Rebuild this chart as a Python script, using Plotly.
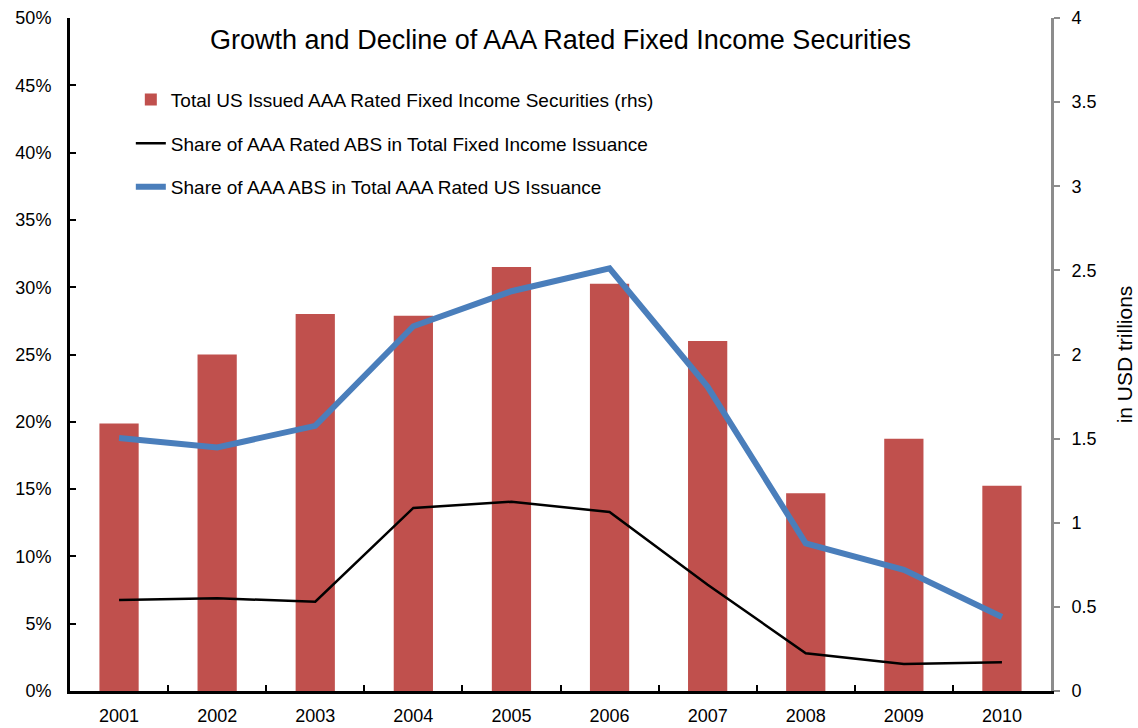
import plotly.graph_objects as go

years = ["2001", "2002", "2003", "2004", "2005", "2006", "2007", "2008", "2009", "2010"]
total_aaa_trn = [1.59, 2.00, 2.24, 2.23, 2.52, 2.42, 2.08, 1.175, 1.50, 1.22]
share_abs_total_fi = [6.76, 6.89, 6.63, 13.6, 14.06, 13.3, 7.9, 2.8, 2.0, 2.13]
share_abs_aaa = [18.8, 18.1, 19.7, 27.1, 29.7, 31.4, 22.6, 10.97, 9.0, 5.5]

left_ticks = [0, 5, 10, 15, 20, 25, 30, 35, 40, 45, 50]
left_tick_labels = ["0%", "5%", "10%", "15%", "20%", "25%", "30%", "35%", "40%", "45%", "50%"]
right_ticks = [0, 0.5, 1, 1.5, 2, 2.5, 3, 3.5, 4]
right_tick_labels = ["0", "0.5", "1", "1.5", "2", "2.5", "3", "3.5", "4"]

FONT = "Liberation Sans, Arial, sans-serif"

fig = go.Figure()
fig.add_trace(go.Bar(
    x=years, y=total_aaa_trn,
    name="Total US Issued AAA Rated Fixed Income Securities (rhs)",
    marker=dict(color="#C0504D", line=dict(width=0)),
    width=0.4, yaxis="y", legendgroup="a",
))
fig.add_trace(go.Scatter(
    x=years, y=share_abs_total_fi, mode="lines",
    name="Share of AAA Rated ABS in Total Fixed Income Issuance",
    line=dict(color="black", width=2.5), yaxis="y2", legendgroup="b",
))
fig.add_trace(go.Scatter(
    x=years, y=share_abs_aaa, mode="lines",
    name="Share of AAA ABS in Total AAA Rated US Issuance",
    line=dict(color="#4A7EBB", width=6), yaxis="y2", legendgroup="c",
))

fig.update_layout(
    width=1138, height=728,
    margin=dict(l=70, r=87, t=18, b=37),
    paper_bgcolor="white", plot_bgcolor="white",
    font=dict(family=FONT, size=18, color="black"),
    showlegend=True,
    bargap=0.6,
    title=dict(text="Growth and Decline of AAA Rated Fixed Income Securities",
               x=0.5, xref="paper", y=0.946, yref="container",
               xanchor="center", yanchor="middle",
               font=dict(size=27, family=FONT, color="black")),
    legend=dict(x=0.062, y=0.907, xanchor="left", yanchor="top",
                bgcolor="rgba(0,0,0,0)", tracegroupgap=16,
                font=dict(size=19, family=FONT), traceorder="grouped"),
    xaxis=dict(type="category", showline=True, linecolor="black", linewidth=3,
               ticks="inside", tickson="boundaries", ticklen=6, tickwidth=2,
               tickcolor="black", showgrid=False, zeroline=False,
               tickfont=dict(size=18), ticklabelstandoff=6, automargin=False),
    yaxis=dict(side="right", range=[0, 4], tickvals=right_ticks,
               ticktext=right_tick_labels, showline=True,
               linecolor="#8C8C8C", linewidth=3, ticks="outside", ticklen=6,
               tickwidth=2, tickcolor="#8C8C8C", showgrid=False, zeroline=False,
               title=dict(text="in USD trillions", font=dict(size=21), standoff=22),
               tickfont=dict(size=18), ticklabelstandoff=8, automargin=False),
    yaxis2=dict(side="left", overlaying="y", range=[0, 50], tickvals=left_ticks,
                ticktext=left_tick_labels, showline=True, linecolor="black",
                linewidth=3, ticks="inside", ticklen=6, tickwidth=2,
                tickcolor="black", showgrid=False, zeroline=False,
                tickfont=dict(size=18), ticklabelstandoff=12, automargin=False),
)

fig.write_html("out.html")
